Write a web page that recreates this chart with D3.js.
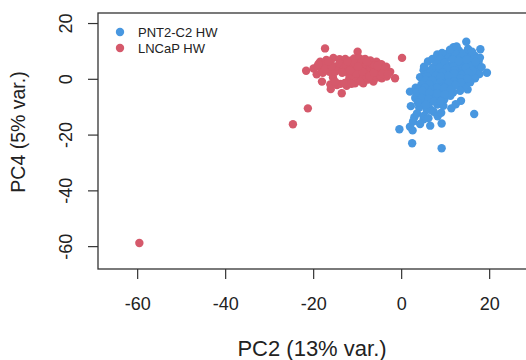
<!DOCTYPE html>
<html>
<head>
<meta charset="utf-8">
<script src="https://cdn.jsdelivr.net/npm/d3@7"></script>
<style>
  body { margin: 0; background: #fff; }
  svg { display: block; font-family: "Liberation Sans", Arial, Helvetica, sans-serif; }
</style>
</head>
<body>
<script>
// PNT2-C2 HW samples (PC2, PC4)
const pntX = [14.8, 18.0, 11.9, 16.1, 19.5, 17.6, 8.5, 5.1, 15.1, 13.6, 11.4, 16.6, 2.0, 2.2, 3.0, -0.4, 2.0, 2.6, 6.6, 9.2, 2.5, 9.2, 5.1, 6.8,
  9.3, 10.2, 11.4, 12.1, 13.3, 14.2, 15.4, 15.8, 10.7, 12.3, 13.6, 14.8, 16.4, 9.6, 11.2, 12.7, 13.9, 15.6, 16.9, 8.4, 10.3, 11.7, 13.2, 14.6, 16.2,
  8.1, 9.7, 10.9, 12.6, 14.3, 15.3, 7.2, 8.8, 10.1, 11.6, 12.9, 14.4, 6.2, 7.4, 8.3, 13.1, 14.1, 10.2, 12.2, 16.7, 17.4, 17.8, 16.8, 15.7, 13.4,
  11.8, 10.4, 9.1, 7.6, 6.3, 5.2, 4.3, 6.7, 7.7,
  5.6, 7.3, 8.6, 9.8, 11.2, 4.2, 3.2, 5.3, 6.4, 8.2, 9.6, 4.1, 5.8, 7.4, 3.6, 5.1, 6.2, 8.3, 9.1, 2.7, 4.3, 12.4, 3.3,
  5.2, 6.1, 7.1, 8.2, 9.3, 11.1, 5.7, 18.3, 17.9, 15.2, 12.6, 16.1,
  8.9, 11.7, 14.9, 8.0, 9.9, 11.9, 13.1, 15.8, 16.9, 7.0, 8.7, 10.4, 12.1, 14.7, 16.2, 6.6, 7.8, 9.4, 12.0, 13.8, 15.3,
  5.9, 9.0, 10.7, 13.5, 15.0, 5.6, 7.0, 8.9, 12.0, 13.6, 4.6, 6.4, 9.4, 10.8, 12.3, 4.0, 5.4, 6.9, 8.2, 9.8, 11.2,
  3.5, 4.9, 6.4, 8.2, 9.9, 4.7, 6.2, 7.6, 9.0, 3.8, 5.6];
const pntY = [13.3, 10.6, 11.3, 9.3, 2.2, 6.1, 8.5, 3.1, -3.8, -7.9, -10.6, -12.6, -4.6, -9.8, -13.8, -18.1, -17.2, -18.5, -16.8, -16.0, -23.1, -24.9, -14.5, -11.2,
  6.3, 7.4, 8.1, 7.2, 8.6, 6.8, 8.2, 6.6, 4.8, 5.9, 4.6, 5.3, 5.1, 3.2, 2.7, 3.8, 2.6, 3.4, 3.7, 1.8, 1.2, 0.6, 1.9, 0.8, 1.6,
  0.3, -0.4, -1.1, 0.5, -0.8, -0.2, -1.7, -2.6, -2.2, -3.1, -1.6, -2.8, 2.6, 4.2, 5.8, 10.2, 9.1, 8.8, 9.6, 8.3, 5.7, 1.7, 0.2, -1.2,
  -4.3, -4.9, -3.8, -4.6, -3.3, -2.7, -1.3, 0.6, 0.9, 2.9,
  -5.3, -6.2, -6.8, -7.4, -6.1, -5.7, -6.9, -8.3, -8.8, -9.2, -9.7, -10.3, -11.2, -11.8, -12.4, -13.3, -14.1, -13.4, -12.2, -15.3, -16.2, -9.1, -3.2,
  4.3, 6.2, 7.1, 8.7, 9.3, 10.4, 1.4, 4.2, 7.6, 10.7, 11.6, 9.7,
  7.2, 6.9, 6.9, 5.3, 5.8, 4.4, 6.4, 4.4, 6.1, 3.6, 4.1, 3.9, 3.1, 4.0, 2.8, 2.2, 1.1, 2.3, 2.0, 1.4, 2.1,
  0.9, 0.7, 1.0, 0.2, 0.0, -0.4, -0.5, -1.3, -0.9, -1.4, -2.0, -1.9, -2.9, -1.5, -2.2, -3.7, -3.2, -3.9, -3.3, -3.2, -3.8,
  -5.0, -4.3, -5.0, -5.2, -5.6, -6.9, -7.2, -8.0, -8.0, -8.5, -9.3];

// LNCaP HW samples (PC2, PC4)
const lncX = [-17.3, -9.9, 0.2, -21.6, -1.4, -13.5, -16.0, -21.2, -24.6, -59.5,
  -18.4, -17, -15.4, -14, -12.7, -11.5, -10.7, -9.5, -8.2, -7, -5.6, -4.5, -3.4, -2.5,
  -19.9, -19.2, -18, -16.1, -14.6, -12.4, -10.5, -8.6, -6.3, -4.4, -3.3,
  -19, -18, -17.5, -16.5, -16.3, -15.5, -15, -14.5, -14, -13, -12.5, -12, -11.8, -11, -11, -10.5, -10, -10, -9.5, -9, -9,
  -8.5, -8, -8, -7.5, -7.5, -7, -6.8, -6.5, -6, -6, -5.5, -5.2, -5, -4.8, -4, -3.8, -13.8, -12.8, -15, -16, -17.8, -9.2, -11.3, -7.8,
  -18.8, -17.2, -15.8, -13.4, -12.2, -10.3, -8.8, -7.2, -6.2, -5.4, -4.2, -3.0, -9.8, -11.6, -7.8, -16.6];
const lncY = [10.9, 9.7, 7.5, 2.9, 0.2, -5.2, -3.7, -10.6, -16.3, -58.9,
  6.1, 6.8, 7.5, 7, 7.1, 6.5, 7.3, 7.4, 7.1, 6.6, 6.1, 5.2, 4.3, 2.5,
  3.7, 1.6, -1.0, -2.0, -2.2, -2.5, -1.6, -1.6, -1.0, 0.2, 0.8,
  4.5, 3, 4.8, 3.5, 2.5, 0.5, 2.5, 4.5, 5.5, 3.8, 5, 2, 0, 4, 1.2, 5.5, 3, -0.5, 2, 4.5, 6,
  1, 3.2, 5, -0.3, 2.3, 4, 5.5, 1.5, 3, 4.8, 0.5, 2.2, 3.8, 1.2, 2.8, 3.5, -1.8, -1.5, -1, 5.5, 2.2, -1, -1.8, 0.5,
  5.3, 3.6, 4.4, 2.2, 6.2, 1.8, 2.5, 1.0, 2.2, 4.6, 1.8, 1.6, 4.3, 3.0, 6.1, 6.3];

const groups = ["PNT2-C2 HW", "LNCaP HW"];
const colors = ["#4897e0", "#d5596b"];
const xTicks = [-60, -40, -20, 0, 20];
const yTicks = [-60, -40, -20, 0, 20];

const w = 526, h = 360;

const svg = d3.select("body").append("svg")
  .attr("width", w)
  .attr("height", h);

const x = d3.scaleLinear().domain([-68.9, 33.6]).range([98, 549]);
const y = d3.scaleLinear().domain([-68.2, 23.6]).range([269, 13]);

// points
const pnt = pntX.map((v, i) => ({ x: v, y: pntY[i], g: 0 }));
const lnc = lncX.map((v, i) => ({ x: v, y: lncY[i], g: 1 }));

svg.append("g").selectAll("circle")
  .data(pnt.concat(lnc))
  .enter().append("circle")
  .attr("cx", d => x(d.x))
  .attr("cy", d => y(d.y))
  .attr("r", 4.2)
  .attr("fill", d => colors[d.g]);

// box
svg.append("rect")
  .attr("x", x.range()[0])
  .attr("y", y.range()[1])
  .attr("width", x.range()[1] - x.range()[0])
  .attr("height", y.range()[0] - y.range()[1])
  .attr("fill", "none")
  .attr("stroke", "#333")
  .attr("stroke-width", 1.3);

const fmt = d => String(d); // plain hyphen like R

// x axis
const xAxis = svg.append("g")
  .attr("transform", "translate(0," + y.range()[0] + ")")
  .call(d3.axisBottom(x).tickValues(xTicks).tickFormat(fmt).tickSize(10).tickSizeOuter(0).tickPadding(18));
xAxis.select(".domain").remove();
xAxis.selectAll("line").attr("stroke", "#333").attr("stroke-width", 1.2);
xAxis.selectAll("text").attr("font-size", 18).attr("fill", "#222")
  .style("font-family", "'Liberation Sans', Arial, sans-serif");

// y axis, labels parallel to the axis
const yAxis = svg.append("g")
  .attr("transform", "translate(" + x.range()[0] + ",0)")
  .call(d3.axisLeft(y).tickValues(yTicks).tickFormat(fmt).tickSize(10).tickSizeOuter(0));
yAxis.select(".domain").remove();
yAxis.selectAll("line").attr("stroke", "#333").attr("stroke-width", 1.2);
yAxis.selectAll("text")
  .attr("transform", "rotate(-90)")
  .attr("x", 0)
  .attr("y", -26)
  .attr("dy", 0)
  .attr("text-anchor", "middle")
  .attr("font-size", 18)
  .attr("fill", "#222")
  .style("font-family", "'Liberation Sans', Arial, sans-serif");

// axis titles
svg.append("text")
  .attr("x", 312)
  .attr("y", 356)
  .attr("text-anchor", "middle")
  .attr("font-size", 22)
  .attr("fill", "#222")
  .text("PC2 (13% var.)");

svg.append("text")
  .attr("transform", "translate(25,132) rotate(-90)")
  .attr("text-anchor", "middle")
  .attr("font-size", 19.5)
  .attr("fill", "#222")
  .text("PC4 (5% var.)");

// legend
const legend = svg.append("g").attr("transform", "translate(120,32)");
legend.selectAll("circle")
  .data(groups)
  .enter().append("circle")
  .attr("cx", 0)
  .attr("cy", (d, i) => i * 16)
  .attr("r", 4.2)
  .attr("fill", (d, i) => colors[i]);
legend.selectAll("text")
  .data(groups)
  .enter().append("text")
  .attr("x", 18)
  .attr("y", (d, i) => i * 16)
  .attr("dy", "0.36em")
  .attr("font-size", 13)
  .attr("fill", "#222")
  .text(d => d);
</script>
</body>
</html>
